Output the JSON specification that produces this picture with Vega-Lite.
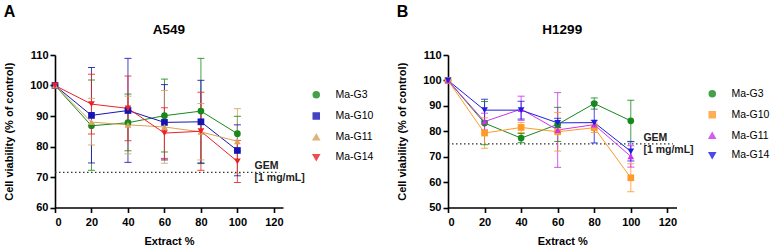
{
  "$schema": "https://vega.github.io/schema/vega-lite/v6.json",
  "padding": {"left": 3, "top": 4, "right": 0, "bottom": 0},
  "background": "white",
  "config": {
    "view": {"stroke": null},
    "font": "Liberation Sans",
    "axis": {
      "grid": false,
      "labelOverlap": false,
      "domainColor": "black",
      "domainWidth": 1.6,
      "tickColor": "black",
      "tickWidth": 1.6,
      "tickSize": 5,
      "labelColor": "black",
      "labelFont": "Liberation Sans",
      "labelFontSize": 11,
      "labelFontWeight": "bold",
      "titleColor": "black",
      "titleFont": "Liberation Sans",
      "titleFontSize": 11,
      "titleFontWeight": "bold"
    },
    "legend": {
      "labelFont": "Liberation Sans",
      "labelFontSize": 10.5,
      "labelColor": "black"
    },
    "title": {"font": "Liberation Sans", "fontSize": 16, "fontWeight": "bold", "color": "black"}
  },
  "datasets": {
    "a": [
      {"s": "Ma-G3", "x": 0, "y": 100},
      {"s": "Ma-G3", "x": 20, "y": 86.8, "lo": 72.2, "hi": 101.8},
      {"s": "Ma-G3", "x": 40, "y": 87.8, "lo": 78.6, "hi": 97.2},
      {"s": "Ma-G3", "x": 60, "y": 90.1, "lo": 78.2, "hi": 102.1},
      {"s": "Ma-G3", "x": 80, "y": 91.6, "lo": 74.4, "hi": 108.9},
      {"s": "Ma-G3", "x": 100, "y": 84.2, "lo": 78.5, "hi": 89.9},
      {"s": "Ma-G10", "x": 0, "y": 100},
      {"s": "Ma-G10", "x": 20, "y": 90.2, "lo": 74.6, "hi": 105.9},
      {"s": "Ma-G10", "x": 40, "y": 91.8, "lo": 74.8, "hi": 108.9},
      {"s": "Ma-G10", "x": 60, "y": 87.9, "lo": 75.6, "hi": 100.3},
      {"s": "Ma-G10", "x": 80, "y": 88.1, "lo": 74.6, "hi": 101.7},
      {"s": "Ma-G10", "x": 100, "y": 78.7, "lo": 70.4, "hi": 87.1},
      {"s": "Ma-G11", "x": 0, "y": 100},
      {"s": "Ma-G11", "x": 20, "y": 88.0, "lo": 80.5, "hi": 95.8},
      {"s": "Ma-G11", "x": 40, "y": 87.1, "lo": 77.6, "hi": 96.5},
      {"s": "Ma-G11", "x": 60, "y": 86.4, "lo": 74.5, "hi": 98.4},
      {"s": "Ma-G11", "x": 80, "y": 84.8, "lo": 75.6, "hi": 94.1},
      {"s": "Ma-G11", "x": 100, "y": 81.7, "lo": 71.1, "hi": 92.4},
      {"s": "Ma-G14", "x": 0, "y": 100},
      {"s": "Ma-G14", "x": 20, "y": 93.9, "lo": 84.1, "hi": 103.7},
      {"s": "Ma-G14", "x": 40, "y": 92.5, "lo": 81.9, "hi": 103.1},
      {"s": "Ma-G14", "x": 60, "y": 84.4, "lo": 76.1, "hi": 92.7},
      {"s": "Ma-G14", "x": 80, "y": 85.0, "lo": 72.2, "hi": 97.8},
      {"s": "Ma-G14", "x": 100, "y": 75.1, "lo": 68.2, "hi": 82.0}
    ],
    "b": [
      {"s": "Ma-G3", "x": 0, "y": 100},
      {"s": "Ma-G3", "x": 20, "y": 83.2, "lo": 74.7, "hi": 91.7},
      {"s": "Ma-G3", "x": 40, "y": 77.3, "lo": 75.5, "hi": 79.1},
      {"s": "Ma-G3", "x": 60, "y": 82.7, "lo": 76.0, "hi": 89.4},
      {"s": "Ma-G3", "x": 80, "y": 90.9, "lo": 88.7, "hi": 93.1},
      {"s": "Ma-G3", "x": 100, "y": 84.1, "lo": 76.0, "hi": 92.2},
      {"s": "Ma-G10", "x": 0, "y": 100},
      {"s": "Ma-G10", "x": 20, "y": 79.3, "lo": 73.3, "hi": 85.3},
      {"s": "Ma-G10", "x": 40, "y": 81.5, "lo": 79.5, "hi": 83.5},
      {"s": "Ma-G10", "x": 60, "y": 79.8, "lo": 72.2, "hi": 87.4},
      {"s": "Ma-G10", "x": 80, "y": 81.4, "lo": 79.5, "hi": 83.3},
      {"s": "Ma-G10", "x": 100, "y": 61.7, "lo": 56.2, "hi": 67.2},
      {"s": "Ma-G11", "x": 0, "y": 100},
      {"s": "Ma-G11", "x": 20, "y": 83.8, "lo": 80.5, "hi": 87.1},
      {"s": "Ma-G11", "x": 40, "y": 88.7, "lo": 84.3, "hi": 93.8},
      {"s": "Ma-G11", "x": 60, "y": 80.5, "lo": 65.8, "hi": 95.2},
      {"s": "Ma-G11", "x": 80, "y": 82.6, "lo": 81.0, "hi": 84.2},
      {"s": "Ma-G11", "x": 100, "y": 70.1, "lo": 65.9, "hi": 74.3},
      {"s": "Ma-G14", "x": 0, "y": 100},
      {"s": "Ma-G14", "x": 20, "y": 88.3, "lo": 84.0, "hi": 92.6},
      {"s": "Ma-G14", "x": 40, "y": 88.3, "lo": 84.8, "hi": 91.8},
      {"s": "Ma-G14", "x": 60, "y": 83.3, "lo": 81.5, "hi": 85.1},
      {"s": "Ma-G14", "x": 80, "y": 83.4, "lo": 75.4, "hi": 91.4},
      {"s": "Ma-G14", "x": 100, "y": 72.1, "lo": 68.3, "hi": 75.9}
    ],
    "gemA": [{"x": 0, "x2": 123, "y": 71.5}],
    "gemB": [{"x": 0, "x2": 123, "y": 75}],
    "txtA": [{"x": 109.4, "y": 73.6, "t": "GEM"}, {"x": 109.4, "y": 69.7, "t": "[1 mg/mL]"}],
    "txtB": [{"x": 106.9, "y": 77.2, "t": "GEM"}, {"x": 106.9, "y": 72.8, "t": "[1 mg/mL]"}]
  },
  "resolve": {"scale": {"color": "independent", "shape": "independent"}},
  "spacing": 22,
  "hconcat": [
    {
      "title": {"text": "A", "anchor": "start", "offset": 3},
      "vconcat": [
        {
          "width": 228,
          "height": 152.5,
          "title": {"text": "A549", "fontSize": 13.5, "anchor": "middle", "offset": 12.5},
          "data": {"name": "a"},
          "encoding": {
            "x": {"field": "x", "type": "quantitative", "scale": {"domain": [0, 125], "nice": false},
                  "axis": {"values": [0, 20, 40, 60, 80, 100, 120], "title": "Extract %", "titlePadding": 8.5, "labelPadding": 3.5, "labelOverlap": false}},
            "color": {"field": "s", "type": "nominal",
                      "scale": {"domain": ["Ma-G3", "Ma-G10", "Ma-G11", "Ma-G14"], "range": ["#17891c", "#1515b5", "#d8a25c", "#ee2026"]},
                      "legend": {"title": null, "orient": "none", "legendX": 256, "legendY": 34.5, "symbolSize": 36, "labelOffset": 14, "rowPadding": 8.2}}
          },
          "layer": [
            {
              "data": {"name": "gemA"},
              "mark": {"type": "rule", "strokeWidth": 1.3, "strokeDash": [1.5, 2.5]},
              "encoding": {
                "x2": {"field": "x2"},
                "y": {"field": "y", "type": "quantitative", "scale": {"domain": [60, 110], "nice": false},
                      "axis": {"values": [60, 70, 80, 90, 100, 110], "title": "Cell viability (% of control)", "labelPadding": 2, "titlePadding": 15, "labelOverlap": false}},
                "color": {"value": "#333333"}
              }
            },
            {
              "mark": {"type": "rule", "strokeWidth": 1, "opacity": 0.8},
              "encoding": {
                "y": {"field": "lo", "type": "quantitative", "scale": {"domain": [60, 110], "nice": false},
                      "axis": {"values": [60, 70, 80, 90, 100, 110], "title": "Cell viability (% of control)", "labelPadding": 2, "titlePadding": 15, "labelOverlap": false}},
                "y2": {"field": "hi"}
              }
            },
            {
              "mark": {"type": "tick", "orient": "horizontal", "size": 7, "thickness": 1, "opacity": 0.85},
              "encoding": {
                "y": {"field": "lo", "type": "quantitative", "scale": {"domain": [60, 110], "nice": false},
                      "axis": {"values": [60, 70, 80, 90, 100, 110], "title": "Cell viability (% of control)", "labelPadding": 2, "titlePadding": 15, "labelOverlap": false}}
              }
            },
            {
              "mark": {"type": "tick", "orient": "horizontal", "size": 7, "thickness": 1, "opacity": 0.85},
              "encoding": {
                "y": {"field": "hi", "type": "quantitative", "scale": {"domain": [60, 110], "nice": false},
                      "axis": {"values": [60, 70, 80, 90, 100, 110], "title": "Cell viability (% of control)", "labelPadding": 2, "titlePadding": 15, "labelOverlap": false}}
              }
            },
            {
              "mark": {"type": "line", "strokeWidth": 1},
              "encoding": {
                "y": {"field": "y", "type": "quantitative", "scale": {"domain": [60, 110], "nice": false},
                      "axis": {"values": [60, 70, 80, 90, 100, 110], "title": "Cell viability (% of control)", "labelPadding": 2, "titlePadding": 15, "labelOverlap": false}}
              }
            },
            {
              "data": {"name": "txtA"},
              "mark": {"type": "text", "align": "left", "baseline": "middle", "fontWeight": "bold", "fontSize": 10.5, "font": "Liberation Sans"},
              "encoding": {
                "y": {"field": "y", "type": "quantitative", "scale": {"domain": [60, 110], "nice": false},
                      "axis": {"values": [60, 70, 80, 90, 100, 110], "title": "Cell viability (% of control)", "labelPadding": 2, "titlePadding": 15, "labelOverlap": false}},
                "text": {"field": "t"},
                "color": {"value": "#222222"}
              }
            },
            {
              "mark": {"type": "point", "filled": true, "opacity": 1, "size": 45},
              "encoding": {
                "y": {"field": "y", "type": "quantitative", "scale": {"domain": [60, 110], "nice": false},
                      "axis": {"values": [60, 70, 80, 90, 100, 110], "title": "Cell viability (% of control)", "labelPadding": 2, "titlePadding": 15, "labelOverlap": false}},
                "shape": {"field": "s", "type": "nominal",
                          "scale": {"domain": ["Ma-G3", "Ma-G10", "Ma-G11", "Ma-G14"], "range": ["circle", "square", "triangle-up", "triangle-down"]},
                          "legend": {"title": null, "orient": "none", "legendX": 256, "legendY": 34.5, "symbolSize": 36, "labelOffset": 14, "rowPadding": 8.2}}
              }
            }
          ]
        }
      ]
    },
    {
      "title": {"text": "B", "anchor": "start", "offset": 3},
      "vconcat": [
        {
          "width": 228.5,
          "height": 152.5,
          "title": {"text": "H1299", "fontSize": 13.5, "anchor": "middle", "offset": 12.5},
          "data": {"name": "b"},
          "encoding": {
            "x": {"field": "x", "type": "quantitative", "scale": {"domain": [0, 125], "nice": false},
                  "axis": {"values": [0, 20, 40, 60, 80, 100, 120], "title": "Extract %", "titlePadding": 8.5, "labelPadding": 3.5, "labelOverlap": false}},
            "color": {"field": "s", "type": "nominal",
                      "scale": {"domain": ["Ma-G3", "Ma-G10", "Ma-G11", "Ma-G14"], "range": ["#17891c", "#ff9a2a", "#cc33ee", "#1e1ee0"]},
                      "legend": {"title": null, "orient": "none", "legendX": 259, "legendY": 33.5, "symbolSize": 36, "labelOffset": 14, "rowPadding": 7.9}}
          },
          "layer": [
            {
              "data": {"name": "gemB"},
              "mark": {"type": "rule", "strokeWidth": 1.3, "strokeDash": [1.5, 2.5]},
              "encoding": {
                "x2": {"field": "x2"},
                "y": {"field": "y", "type": "quantitative", "scale": {"domain": [50, 110], "nice": false},
                      "axis": {"values": [50, 60, 70, 80, 90, 100, 110], "title": "Cell viability (% of control)", "labelPadding": 2, "titlePadding": 15, "labelOverlap": false}},
                "color": {"value": "#333333"}
              }
            },
            {
              "mark": {"type": "rule", "strokeWidth": 1, "opacity": 0.8},
              "encoding": {
                "y": {"field": "lo", "type": "quantitative", "scale": {"domain": [50, 110], "nice": false},
                      "axis": {"values": [50, 60, 70, 80, 90, 100, 110], "title": "Cell viability (% of control)", "labelPadding": 2, "titlePadding": 15, "labelOverlap": false}},
                "y2": {"field": "hi"}
              }
            },
            {
              "mark": {"type": "tick", "orient": "horizontal", "size": 7, "thickness": 1, "opacity": 0.85},
              "encoding": {
                "y": {"field": "lo", "type": "quantitative", "scale": {"domain": [50, 110], "nice": false},
                      "axis": {"values": [50, 60, 70, 80, 90, 100, 110], "title": "Cell viability (% of control)", "labelPadding": 2, "titlePadding": 15, "labelOverlap": false}}
              }
            },
            {
              "mark": {"type": "tick", "orient": "horizontal", "size": 7, "thickness": 1, "opacity": 0.85},
              "encoding": {
                "y": {"field": "hi", "type": "quantitative", "scale": {"domain": [50, 110], "nice": false},
                      "axis": {"values": [50, 60, 70, 80, 90, 100, 110], "title": "Cell viability (% of control)", "labelPadding": 2, "titlePadding": 15, "labelOverlap": false}}
              }
            },
            {
              "mark": {"type": "line", "strokeWidth": 1},
              "encoding": {
                "y": {"field": "y", "type": "quantitative", "scale": {"domain": [50, 110], "nice": false},
                      "axis": {"values": [50, 60, 70, 80, 90, 100, 110], "title": "Cell viability (% of control)", "labelPadding": 2, "titlePadding": 15, "labelOverlap": false}}
              }
            },
            {
              "data": {"name": "txtB"},
              "mark": {"type": "text", "align": "left", "baseline": "middle", "fontWeight": "bold", "fontSize": 10.5, "font": "Liberation Sans"},
              "encoding": {
                "y": {"field": "y", "type": "quantitative", "scale": {"domain": [50, 110], "nice": false},
                      "axis": {"values": [50, 60, 70, 80, 90, 100, 110], "title": "Cell viability (% of control)", "labelPadding": 2, "titlePadding": 15, "labelOverlap": false}},
                "text": {"field": "t"},
                "color": {"value": "#222222"}
              }
            },
            {
              "mark": {"type": "point", "filled": true, "opacity": 1, "size": 45},
              "encoding": {
                "y": {"field": "y", "type": "quantitative", "scale": {"domain": [50, 110], "nice": false},
                      "axis": {"values": [50, 60, 70, 80, 90, 100, 110], "title": "Cell viability (% of control)", "labelPadding": 2, "titlePadding": 15, "labelOverlap": false}},
                "shape": {"field": "s", "type": "nominal",
                          "scale": {"domain": ["Ma-G3", "Ma-G10", "Ma-G11", "Ma-G14"], "range": ["circle", "square", "triangle-up", "triangle-down"]},
                          "legend": {"title": null, "orient": "none", "legendX": 259, "legendY": 33.5, "symbolSize": 36, "labelOffset": 14, "rowPadding": 7.9}}
              }
            }
          ]
        }
      ]
    }
  ]
}
